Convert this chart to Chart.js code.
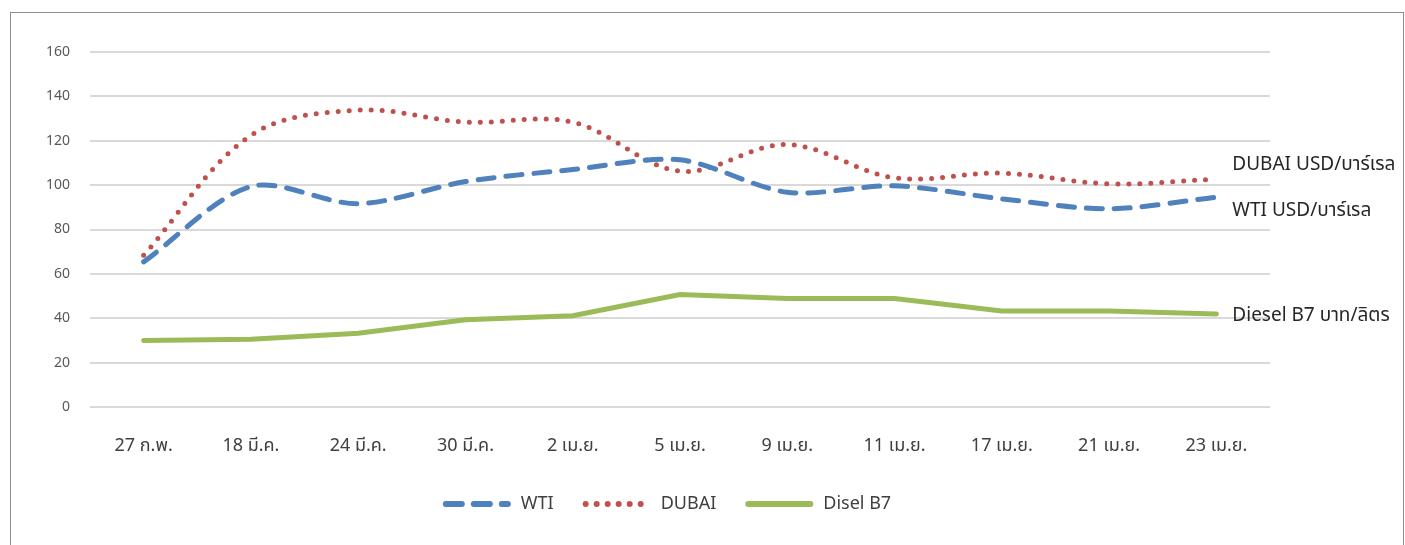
<!DOCTYPE html>
<html>
<head>
<meta charset="utf-8">
<script src="https://cdn.jsdelivr.net/npm/chart.js@4.4.0/dist/chart.umd.min.js"></script>
<style>
  html, body { margin: 0; padding: 0; background: #fff; }
  #frame { position: absolute; left: 10px; top: 12px; width: 1392px; height: 540px;
           border: 1px solid #8c8c8c; border-bottom: none; }
  #wrap { position: absolute; left: 0; top: 0; width: 1405px; height: 545px; }
</style>
</head>
<body>
<div id="frame"></div>
<div id="wrap"><canvas id="oilChart"></canvas></div>
<script>
// หมวดวันที่
var labels = ['27 ก.พ.', '18 มี.ค.', '24 มี.ค.', '30 มี.ค.', '2 เม.ย.', '5 เม.ย.',
  '9 เม.ย.', '11 เม.ย.', '17 เม.ย.', '21 เม.ย.', '23 เม.ย.'];
var wti = [65.4, 99.4, 91.6, 101.6, 107, 111.4, 96.8, 99.7, 93.8, 89.3, 94.6];
var dubai = [68.4, 122.4, 133.8, 128.4, 128.4, 106.3, 118.3, 103.3, 105.4, 100.6, 102.7];
var diesel = [30.0, 30.5, 33.2, 39.3, 41.1, 50.7, 48.9, 48.9, 43.3, 43.3, 41.9];
var yTicks = [0, 20, 40, 60, 80, 100, 120, 140, 160];
var endLabels = ['WTI USD/บาร์เรล', 'DUBAI USD/บาร์เรล', 'Diesel B7 บาท/ลิตร'];

var FONT = "'Noto Sans', 'Noto Sans Thai', Tahoma, sans-serif";

// ป้ายท้ายเส้น
var endLabelPlugin = {
  id: 'endLabels',
  afterDatasetsDraw: function(chart) {
    var ctx = chart.ctx;
    var xs = chart.scales.x, ys = chart.scales.y;
    var shift = [13, -15, 2];
    ctx.save();
    ctx.font = '19px ' + FONT;
    ctx.fillStyle = '#262626';
    ctx.textBaseline = 'middle';
    chart.data.datasets.forEach(function(ds, i) {
      var last = ds.data.length - 1;
      var x = xs.getPixelForValue(last) + 16;
      var y = ys.getPixelForValue(ds.data[last]) + shift[i];
      ctx.fillText(endLabels[i], x, y);
    });
    ctx.restore();
  }
};

// legend วาดเอง (ให้เส้นประ/จุดตรงกับเส้นกราฟ)
var legendPlugin = {
  id: 'lineLegend',
  afterDraw: function(chart) {
    var ctx = chart.ctx;
    var sample = 68, gapText = 10, gapItem = 29;
    var y = 504;
    ctx.save();
    ctx.font = '18px ' + FONT;
    var dsets = chart.data.datasets;
    var total = 0;
    dsets.forEach(function(ds, i) {
      total += sample + gapText + ctx.measureText(ds.label).width;
      if (i < dsets.length - 1) total += gapItem;
    });
    var x = 667 - total / 2;
    dsets.forEach(function(ds) {
      ctx.beginPath();
      ctx.setLineDash(ds.borderDash || []);
      ctx.lineCap = 'round';
      ctx.lineWidth = 6;
      ctx.strokeStyle = ds.borderColor;
      ctx.moveTo(x + 3, y);
      ctx.lineTo(x + sample - 3, y);
      ctx.stroke();
      ctx.setLineDash([]);
      ctx.fillStyle = '#404040';
      ctx.textBaseline = 'middle';
      ctx.fillText(ds.label, x + sample + gapText, y);
      x += sample + gapText + ctx.measureText(ds.label).width + gapItem;
    });
    ctx.restore();
  }
};

var ctx = document.getElementById('oilChart').getContext('2d');
new Chart(ctx, {
  type: 'line',
  data: {
    labels: labels,
    datasets: [{
      label: 'WTI',
      data: wti,
      borderColor: '#4f81bd',
      borderWidth: 5,
      borderDash: [16, 12],
      borderCapStyle: 'round',
      tension: 0.3,
      pointRadius: 0
    }, {
      label: 'DUBAI',
      data: dubai,
      borderColor: '#c0504d',
      borderWidth: 5,
      borderDash: [0, 11],
      borderCapStyle: 'round',
      tension: 0.35,
      pointRadius: 0
    }, {
      label: 'Disel B7',
      data: diesel,
      borderColor: '#9bbb59',
      borderWidth: 5,
      borderCapStyle: 'round',
      tension: 0,
      pointRadius: 0
    }]
  },
  options: {
    responsive: true,
    maintainAspectRatio: false,
    animation: false,
    layout: { padding: { left: 10, right: 135, top: 52, bottom: 68 } },
    plugins: {
      legend: { display: false },
      tooltip: { enabled: false }
    },
    scales: {
      x: {
        offset: true,
        grid: { display: false, drawTicks: false },
        border: { display: false },
        ticks: { color: '#404040', padding: 28, font: { family: FONT, size: 18 }, maxRotation: 0 },
        afterFit: function(scale) { scale.height = 70; }
      },
      y: {
        min: 0,
        max: 160,
        afterBuildTicks: function(scale) {
          scale.ticks = yTicks.map(function(v) { return { value: v }; });
        },
        grid: { color: '#d9d9d9', lineWidth: 2, drawTicks: false },
        border: { display: false },
        ticks: { color: '#595959', padding: 20, font: { family: FONT, size: 14 } },
        afterFit: function(scale) { scale.width = 80; }
      }
    }
  },
  plugins: [endLabelPlugin, legendPlugin]
});
</script>
</body>
</html>
